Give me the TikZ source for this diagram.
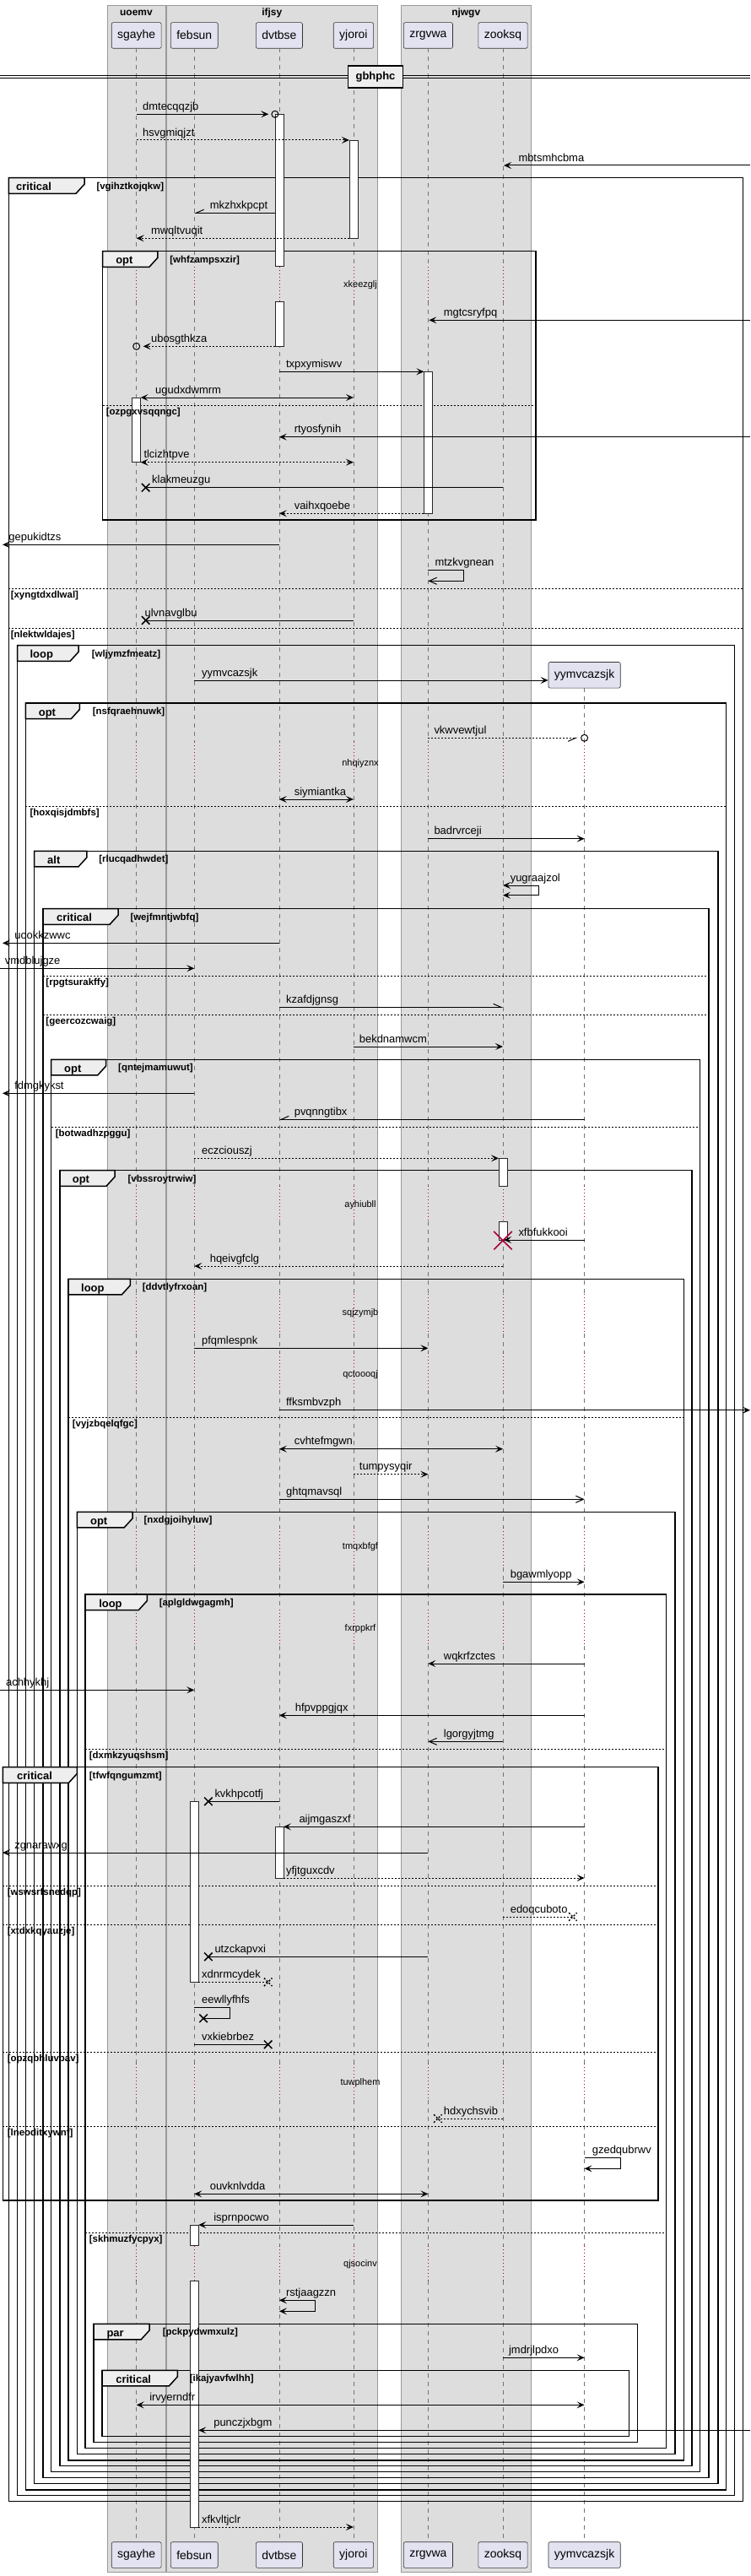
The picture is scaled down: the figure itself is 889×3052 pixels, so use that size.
\documentclass[tikz,border=0pt]{standalone}
\usepackage{fontspec}
\setmainfont{Liberation Sans}
\usetikzlibrary{arrows.meta,shapes.misc}
\definecolor{partfill}{HTML}{E2E2F0}
\definecolor{grpfill}{HTML}{DDDDDD}
\definecolor{tabfill}{HTML}{EEEEEE}
\definecolor{dlyred}{HTML}{A80036}
\pgfdeclarelayer{front}
\pgfsetlayers{main,front}

\begin{document}
\begin{tikzpicture}[x=1bp, y=-1bp,
	head/.tip={Stealth[length=9bp, width=8bp, inset=4bp]},
	part/.style={draw=black!80, fill=partfill, rounded corners=2bp, line width=0.6bp, minimum height=30.6bp, inner xsep=7bp, font=\fontsize{14}{16}\selectfont},
	grp/.style={draw=black!40, fill=grpfill, line width=0.6bp},
	grptitle/.style={inner sep=0, font=\bfseries\fontsize{12}{14}\selectfont},
	life/.style={black!55, dash pattern=on 5bp off 5bp, line width=0.6bp},
	dly/.style={dlyred, dash pattern=on 1bp off 3bp, line width=0.8bp},
	dlytext/.style={inner sep=0, font=\fontsize{11}{13}\selectfont},
	act/.style={draw=black!85, fill=white, line width=0.8bp},
	frm/.style={line width=1.5bp},
	tabshape/.style={fill=tabfill, line width=1.5bp},
	kindlbl/.style={anchor=base west, inner sep=0, font=\bfseries\fontsize{13}{15}\selectfont},
	condlbl/.style={anchor=base west, inner sep=0, font=\bfseries\fontsize{11.5}{13}\selectfont},
	elseline/.style={dash pattern=on 2bp off 2bp, line width=1bp},
	bare/.style={line width=1bp},
	dbare/.style={bare, dash pattern=on 2bp off 2bp},
	msg/.style={bare, -head},
	dmsg/.style={dbare, -head},
	bmsg/.style={bare, head-head},
	dbmsg/.style={dbare, head-head},
	omsg/.style={bare, -{Straight Barb[length=9bp, width=8bp]}},
	lmsg/.style={bare, -{Straight Barb[left, length=9bp, width=8bp]}},
	rmsg/.style={bare, -{Straight Barb[right, length=9bp, width=8bp]}},
	drmsg/.style={dbare, -{Straight Barb[right, length=9bp, width=8bp]}},
	xmark/.style={draw, cross out, minimum size=8bp, inner sep=0, line width=1.5bp},
	omark/.style={draw, circle, minimum size=8bp, inner sep=0, line width=1bp},
	lbl/.style={anchor=base west, inner sep=0, yshift=4.8bp, font=\fontsize{13}{15}\selectfont}]
	\useasboundingbox (0,0) rectangle (889,3052);
	\coordinate (lft) at (0,0);
	\coordinate (rgt) at (889,0);

	\foreach \xa/\xb/\t in {126.9/196/uoemv, 197.7/446.9/ifjsy, 475.4/629.1/njwgv} {
		\draw[grp] (\xa,6) rectangle (\xb,3047);
		\node[grptitle] (\t) at ({(\xa+\xb)/2},15) {\t};
	}

	\foreach \n/\x in {sgayhe/161.7, febsun/230.3, dvtbse/330.9, yjoroi/418.9, zrgvwa/507.4, zooksq/596} {
		\node[part] (\n) at (\x,42) {\n};
		\node[part] (\n-b) at (\x,3027) {\n};
		\foreach \ya/\yb in {57.3/315.7, 357.3/879, 923/1405, 1447.3/1533.3, 1580/1603, 1646.7/1810, 1856.7/1906.7, 1950/2445, 2488.3/2660.7, 2702.3/3011.7}
			\draw[life] (\n |- 0,\ya) -- (\n |- 0,\yb);
		\foreach \ya/\yb in {315.7/357.3, 879/923, 1405/1447.3, 1533.3/1580, 1603/1646.7, 1810/1856.7, 1906.7/1950, 2445/2488.3, 2660.7/2702.3}
			\draw[dly] (\n |- 0,\ya) -- (\n |- 0,\yb);
	}
	\node[part] (yymvcazsjk) at (692.6,799.8) {yymvcazsjk};
	\node[part] (yymvcazsjk-b) at (692.6,3027) {yymvcazsjk};
	\foreach \ya/\yb in {815.3/879, 923/1405, 1447.3/1533.3, 1580/1603, 1646.7/1810, 1856.7/1906.7, 1950/2445, 2488.3/2660.7, 2702.3/3011.7}
		\draw[life] (yymvcazsjk |- 0,\ya) -- (yymvcazsjk |- 0,\yb);
	\foreach \ya/\yb in {879/923, 1405/1447.3, 1533.3/1580, 1603/1646.7, 1810/1856.7, 1906.7/1950, 2445/2488.3, 2660.7/2702.3}
		\draw[dly] (yymvcazsjk |- 0,\ya) -- (yymvcazsjk |- 0,\yb);

	\foreach \y/\t in {337.3/xkeezglj, 905/nhqiyznx, 1427.3/ayhiubll, 1556/sqjzymjb, 1628.3/qctoooqj, 1832.7/tmqxbfgf, 1930/fxrppkrf, 2467.7/tuwplhem, 2682.7/qjsocinv}
		\node[dlytext] (\t) at (427,\y) {\t};

	\draw[bare] (0,89.3) -- (889,89.3) (0,92.7) -- (889,92.7);
	\node[draw, line width=1.5bp, fill=tabfill, minimum width=65bp, minimum height=26bp, inner sep=0, font=\bfseries\fontsize{13}{15}\selectfont] (gbhphc) at (445,91) {gbhphc};

	\foreach \xa/\xb/\ya/\yb/\tw/\k/\kx/\c/\cx [count=\i] in {
		10.3/880.6/210.7/2963.3/100/critical/18.9/vgihztkojqkw/114.3,
		121.7/634.9/297.7/616/186.9/opt/137.1/whfzampsxzir/201.1,
		20.6/870.3/764.7/2956.7/93.1/loop/35.4/wljymzfmeatz/108.6,
		30.3/860.6/833/2950/94.3/opt/45.7/nsfqraehnuwk/109.7,
		40.6/850.9/1008.3/2942.3/102.9/alt/56/rlucqadhwdet/117.1,
		50.9/840/1076.7/2935.7/140/critical/66.9/wejfmntjwbfq/154.3,
		60.6/829.7/1255.3/2928.3/125.7/opt/76/qntejmamuwut/140,
		70.9/820/1386.7/2921.7/136/opt/85.7/vbssroytrwiw/151.4,
		81.1/810.3/1515.3/2915/154.3/loop/96/ddvtlyfrxoan/168.6,
		91.4/800/1791.3/2907.3/157.1/opt/106.9/nxdgjoihyluw/170.3,
		101.1/789.7/1889/2900.7/174.3/loop/117.1/aplgldwgagmh/188.6,
		3.4/780/2093.7/2607/91.4/critical/20/tfwfqngumzmt/105.7,
		110.9/755.4/2753.3/2893.3/177.1/par/126.3/pckpydwmxulz/192.6,
		121.1/745.7/2808.3/2886.7/210.3/critical/137.1/ikajyavfwlhh/224.6} {
		\filldraw[tabshape] (\xa,\ya) -- (\tw,\ya) -- (\tw,\ya+7.6) -- (\tw-10,\ya+18.6) -- (\xa,\ya+18.6) -- cycle;
		\draw[frm] (\xa,\ya) rectangle (\xb,\yb);
		\begin{pgfonlayer}{front}
			\node[kindlbl] (k\i) at (\kx,\ya+15) {\k};
			\node[condlbl] (c\i) at (\cx,\ya+13.5) {[\c]};
		\end{pgfonlayer}
	}
	\foreach \y/\xa/\xb/\c/\cx in {697.3/10.3/880.6/xyngtdxdlwal/12.6, 744.3/10.3/880.6/nlektwldajes/12.6,
		480.3/121.7/634.9/ozpgxvsqqngc/125.7, 955/30.3/860.6/hoxqisjdmbfs/35.4,
		1156/50.9/840/rpgtsurakffy/54.3, 1202.3/50.9/840/geercozcwaig/54.3,
		1335.3/60.6/829.7/botwadhzpggu/65.7, 1679.3/81.1/810.3/vyjzbqelqfgc/85.7,
		2072/101.1/789.7/dxmkzyuqshsm/105.7, 2645.3/101.1/789.7/skhmuzfycpyx/105.7,
		2234.3/3.4/780/wswsrfsnedqp/8.6, 2280.3/3.4/780/xtdxkqyauzje/8.6,
		2431.7/3.4/780/opzqbhluvbav/8.6, 2519.3/3.4/780/lneoditxywnf/8.6} {
		\draw[elseline] (\xa,\y) -- (\xb,\y);
		\begin{pgfonlayer}{front}
			\node[condlbl] (\c) at (\cx,\y+11) {[\c]};
		\end{pgfonlayer}
	}

	\foreach \n/\ya/\yb in {dvtbse/135.3/315.7, dvtbse/357.3/410.3, yjoroi/166/282.3, zrgvwa/440.3/608.3, sgayhe/471/547.7,
		zooksq/1372.3/1405, zooksq/1447.3/1469, febsun/2134.3/2348.3, dvtbse/2164.3/2225, febsun/2636/2660.7, febsun/2702.3/2994}
		\draw[act] ([xshift=-5bp]\n |- 0,\ya) rectangle ([xshift=5bp]\n |- 0,\yb);

	\foreach \a/\sa/\b/\sb/\y in {sgayhe/0/dvtbse/-12.6/135.3, rgt/0/zooksq/1/196, rgt/0/zrgvwa/1/379.3,
		dvtbse/0/zrgvwa/-5/440.3, rgt/0/dvtbse/0/517.7, dvtbse/0/lft/3/645.3, febsun/0/yymvcazsjk.west/0/806,
		zrgvwa/0/yymvcazsjk/0/993.7, dvtbse/0/lft/3/1117.3, lft/0/febsun/0/1147.3, yjoroi/0/zooksq/0/1240,
		febsun/0/lft/3/1295.3, yymvcazsjk/0/zooksq/1/1469, febsun/0/zrgvwa/0/1597.3, dvtbse/0/rgt/0/1670.7,
		zooksq/0/yymvcazsjk/0/1874.3, yymvcazsjk/0/zrgvwa/0/1971, lft/0/febsun/0/2002.3,
		yymvcazsjk/0/dvtbse/0/2032.3, yymvcazsjk/0/dvtbse/5/2164.3, zrgvwa/0/lft/3/2195,
		yjoroi/0/febsun/5/2636, zooksq/0/yymvcazsjk/0/2793.3, rgt/0/febsun/5/2879.3}
		\draw[msg] ([xshift=\sa bp]\a |- 0,\y) -- ([xshift=\sb bp]\b |- 0,\y);
	\foreach \a/\sa/\b/\sb/\y in {sgayhe/0/yjoroi/-5/166, yjoroi/-5/sgayhe/0/282.3, dvtbse/-5/sgayhe/8/410.3,
		zrgvwa/-5/dvtbse/0/608.3, febsun/0/zooksq/-5/1372.3, zooksq/0/febsun/0/1500, yjoroi/0/zrgvwa/0/1746.7,
		dvtbse/5/yymvcazsjk/0/2225, febsun/5/yjoroi/0/2994}
		\draw[dmsg] ([xshift=\sa bp]\a |- 0,\y) -- ([xshift=\sb bp]\b |- 0,\y);
	\foreach \a/\sa/\b/\sb/\y in {sgayhe/5/yjoroi/0/471, dvtbse/0/yjoroi/0/947, dvtbse/0/zooksq/0/1716.7,
		febsun/0/zrgvwa/0/2599.3, sgayhe/0/yymvcazsjk/0/2849.3}
		\draw[bmsg] ([xshift=\sa bp]\a |- 0,\y) -- ([xshift=\sb bp]\b |- 0,\y);
	\draw[dbmsg] ([xshift=5bp]sgayhe |- 0,547.7) -- (yjoroi |- 0,547.7);
	\foreach \a/\sa/\b/\sb/\y [count=\i] in {zooksq/0/sgayhe/11/577.7, yjoroi/0/sgayhe/11/735, dvtbse/0/febsun/16.6/2134.3,
		zrgvwa/0/febsun/16.6/2318.3, febsun/0/dvtbse/-13.2/2422.3}
		\draw[bare] ([xshift=\sa bp]\a |- 0,\y) -- ([xshift=\sb bp]\b |- 0,\y) node[xmark] (xs\i) {};
	\foreach \a/\sa/\b/\sb/\y [count=\i] in {zooksq/0/yymvcazsjk/-13.7/2271, febsun/5/dvtbse/-13.2/2348.3,
		zooksq/0/zrgvwa/11.5/2510}
		\draw[dbare] ([xshift=\sa bp]\a |- 0,\y) -- ([xshift=\sb bp]\b |- 0,\y) node[xmark] (xd\i) {};
	\draw[lmsg] (dvtbse |- 0,1193.3) -- (zooksq |- 0,1193.3);
	\draw[rmsg] ([xshift=-5bp]dvtbse |- 0,252.3) -- (febsun |- 0,252.3);
	\draw[rmsg] (yymvcazsjk |- 0,1326.3) -- (dvtbse |- 0,1326.3);
	\draw[drmsg] (zrgvwa |- 0,874.3) -- ([xshift=-8bp]yymvcazsjk |- 0,874.3);
	\draw[omsg] (dvtbse |- 0,1776.3) -- (yymvcazsjk |- 0,1776.3);
	\draw[omsg] (zooksq |- 0,2063.3) -- (zrgvwa |- 0,2063.3);
	\node[omark] (o1) at ([xshift=-5bp]dvtbse |- 0,135.3) {};
	\node[omark] (o2) at (sgayhe |- 0,410.3) {};
	\node[omark] (o3) at (yymvcazsjk |- 0,874.3) {};
	\node[draw=dlyred, cross out, minimum size=20bp, inner sep=0, line width=1.5bp] (kill) at (zooksq |- 0,1469.7) {};

	\draw[omsg] (zrgvwa |- 0,675) -- ++(42.3,0) -- ++(0,13.3) -- (zrgvwa |- 0,688.3);
	\draw[bmsg] (zooksq |- 0,1049) -- ++(42.3,0) -- ++(0,11.7) -- (zooksq |- 0,1060.7);
	\draw[bare] (febsun |- 0,2378.3) -- ++(42.3,0) -- ++(0,13) -- ([xshift=10.8bp]febsun |- 0,2391.3) node[xmark] (xself) {};
	\draw[msg] (yymvcazsjk |- 0,2556.7) -- ++(42.8,0) -- ++(0,12.6) -- (yymvcazsjk |- 0,2569.3);
	\draw[bmsg] (dvtbse |- 0,2725.3) -- ++(42.2,0) -- ++(0,13) -- (dvtbse |- 0,2738.3);

	\foreach \x/\y/\t [count=\i] in {169/135.3/dmtecqqzjb, 169/166/hsvgmiqjzt, 614.3/196/mbtsmhcbma,
		248.6/252.3/mkzhxkpcpt, 178.9/282.3/mwqltvuqit, 525.7/379.3/mgtcsryfpq, 178.9/410.3/ubosgthkza,
		338.9/440.3/txpxymiswv, 184/471/ugudxdwmrm, 348.6/517.7/rtyosfynih, 170.3/547.7/tlcizhtpve,
		180/577.7/klakmeuzgu, 348.6/608.3/vaihxqoebe, 10.3/645.3/gepukidtzs, 515.4/675/mtzkvgnean,
		171.4/735/ulvnavglbu, 238.9/806/yymvcazsjk, 514.3/874.3/vkwvewtjul, 348.6/947/siymiantka,
		514.3/993.7/badrvrceji, 604.6/1049/yugraajzol, 17.1/1117.3/uookkzwwc, 5.7/1147.3/vmdblujgze,
		338.9/1193.3/kzafdjgnsg, 425.7/1240/bekdnamwcm, 17.1/1295.3/fdmgkykst, 348.6/1326.3/pvqnngtibx,
		238.9/1372.3/eczciouszj, 614.3/1469/xfbfukkooi, 248.6/1500/hqeivgfclg, 238.9/1597.3/pfqmlespnk,
		338.9/1670.7/ffksmbvzph, 348.6/1716.7/cvhtefmgwn, 425.7/1746.7/tumpysyqir, 338.9/1776.3/ghtqmavsql,
		604.6/1874.3/bgawmlyopp, 525.7/1971/wqkrfzctes, 6.9/2002.3/achhykhj, 349.7/2032.3/hfpvppgjqx,
		525.7/2063.3/lgorgyjtmg, 254.3/2134.3/kvkhpcotfj, 354.3/2164.3/aijmgaszxf, 17.1/2195/zgnarawxg,
		338.9/2225/yfjtguxcdv, 604.6/2271/edoqcuboto, 254.3/2318.3/utzckapvxi, 238.9/2348.3/xdnrmcydek,
		238.9/2378.3/eewllyfhfs, 238.9/2422.3/vxkiebrbez, 525.7/2510/hdxychsvib, 701.7/2556.7/gzedqubrwv,
		248.6/2599.3/ouvknlvdda, 253.1/2636/isprnpocwo, 338.9/2725.3/rstjaagzzn, 602.9/2793.3/jmdrjlpdxo,
		177.1/2849.3/irvyerndfr, 253.1/2879.3/punczjxbgm, 238.9/2994/xfkvltjclr}
		\node[lbl] (m\i) at (\x,\y) {\t};
\end{tikzpicture}
\end{document}
